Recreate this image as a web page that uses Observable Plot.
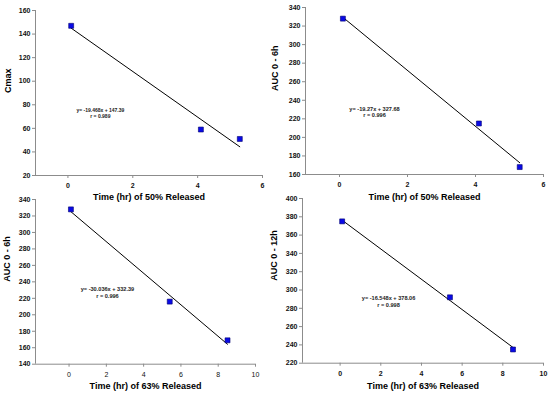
<!DOCTYPE html>
<html><head><meta charset="utf-8">
<script src="https://cdn.jsdelivr.net/npm/d3@7"></script>
<script src="https://cdn.jsdelivr.net/npm/@observablehq/plot@0.6"></script>
<style>
body{margin:0;background:#fff;}
#root{position:relative;width:550px;height:398px;overflow:hidden;background:#fff;}
.panel{position:absolute;}
.panel svg{overflow:visible;background:transparent;}
</style></head><body><div id="root"></div>
<script>
// ---- data ----
const time50 = [0.1, 4.1, 5.3];
const time63 = [0.1, 5.4, 8.5];
const cmax = [147, 59, 51];
const auc06at50 = [328, 215, 168];
const auc06at63 = [328, 216, 169];
const auc012at63 = [375, 292, 235];

const xTicks50 = [0, 2, 4, 6];
const xTicks63 = [0, 2, 4, 6, 8, 10];
const yTicksCmax = [20, 40, 60, 80, 100, 120, 140, 160];
const yTicksAuc6a = [160, 180, 200, 220, 240, 260, 280, 300, 320, 340];
const yTicksAuc6b = [140, 160, 180, 200, 220, 240, 260, 280, 300, 320, 340];
const yTicksAuc12 = [220, 240, 260, 280, 300, 320, 340, 360, 380, 400];

const xLabels = ["Time (hr) of 50% Released", "Time (hr) of 50% Released", "Time (hr) of 63% Released", "Time (hr) of 63% Released"];
const yLabels = ["Cmax", "AUC 0 - 6h", "AUC 0 - 6h", "AUC 0 - 12h"];
const equations = [
  "y= -19.468x + 147.39\nr = 0.989",
  "y= -19.27x + 327.68\nr = 0.996",
  "y= -30.036x + 332.39\nr = 0.996",
  "y= -16.548x + 378.06\nr = 0.998"
];
// annotation anchor in data coordinates
const eqX = [1.0, 1.03, 2.06, 2.38];
const eqY = [72.6, 227.4, 227, 287.4];

const panels = [
  {xs: time50, ys: cmax, xDomain: [-1, 6], xTicks: xTicks50, yDomain: [20, 160], yTicks: yTicksCmax,
   left: 0, top: 0, height: 199, mL: 35, mR: 13, mT: 10, mB: 24, yLabDx: -27, xLabDy: 24.5, eqSize: 5, xWeight: "bold"},
  {xs: time50, ys: auc06at50, xDomain: [-1, 6], xTicks: xTicks50, yDomain: [160, 340], yTicks: yTicksAuc6a,
   left: 275, top: 0, height: 199, mL: 30, mR: 7, mT: 7, mB: 25, yLabDx: -30, xLabDy: 25.5, eqSize: 5.6, xWeight: "bold"},
  {xs: time63, ys: auc06at63, xDomain: [-1.8, 10], xTicks: xTicks63, yDomain: [140, 340], yTicks: yTicksAuc6b,
   left: 0, top: 198, height: 200, mL: 35, mR: 20, mT: 1, mB: 34.3, yLabDx: -28.5, xLabDy: 25, eqSize: 5.6, xWeight: "normal"},
  {xs: time63, ys: auc012at63, xDomain: [-1.85, 10], xTicks: xTicks63, yDomain: [220, 400], yTicks: yTicksAuc12,
   left: 275, top: 198, height: 200, mL: 27, mR: 7, mT: 0, mB: 35.3, yLabDx: -28, xLabDy: 26, eqSize: 5.6, xWeight: "bold"}
];

const root = document.getElementById("root");
panels.forEach((p, i) => {
  const data = p.xs.map((x, j) => ({x, y: p.ys[j]}));
  const chart = Plot.plot({
    width: 275, height: p.height,
    marginLeft: p.mL, marginRight: p.mR, marginTop: p.mT, marginBottom: p.mB,
    style: {fontFamily: "'Liberation Sans', Arial, sans-serif", fontSize: "7px", fontWeight: "bold", color: "#000", background: "transparent", overflow: "visible"},
    x: {domain: p.xDomain},
    y: {domain: p.yDomain},
    marks: [
      Plot.axisX({ticks: p.xTicks, tickFormat: d3.format("d"), tickSize: 3, tickPadding: 5, label: null, stroke: "#8c8c8c", fill: "#111", fontWeight: p.xWeight}),
      Plot.axisY({ticks: p.yTicks, tickFormat: d3.format("d"), tickSize: 3, tickPadding: 2, label: null, stroke: "#8c8c8c", fill: "#111"}),
      Plot.ruleX([p.xDomain[0]], {stroke: "#8c8c8c"}),
      Plot.ruleY([p.yDomain[0]], {stroke: "#8c8c8c"}),
      Plot.linearRegressionY(data, {x: "x", y: "y", stroke: "#000", strokeWidth: 1, ci: 0}),
      Plot.dot(data, {x: "x", y: "y", symbol: "square", r: 2.8, fill: "#0a0ae6", stroke: "#00006e", strokeWidth: 0.6}),
      Plot.text([equations[i]], {x: () => eqX[i], y: () => eqY[i], text: d => d, fontSize: p.eqSize, fontWeight: "bold", fill: "#222", lineHeight: 1.2}),
      Plot.text([xLabels[i]], {text: d => d, frameAnchor: "bottom", dy: p.xLabDy, fontSize: 9, fontWeight: "bold", fill: "#000"}),
      Plot.text([yLabels[i]], {text: d => d, frameAnchor: "left", dx: p.yLabDx, rotate: -90, fontSize: 9, fontWeight: "bold", fill: "#000"})
    ]
  });
  const div = document.createElement("div");
  div.className = "panel";
  div.style.left = p.left + "px";
  div.style.top = p.top + "px";
  div.appendChild(chart);
  root.appendChild(div);
});
</script></body></html>
